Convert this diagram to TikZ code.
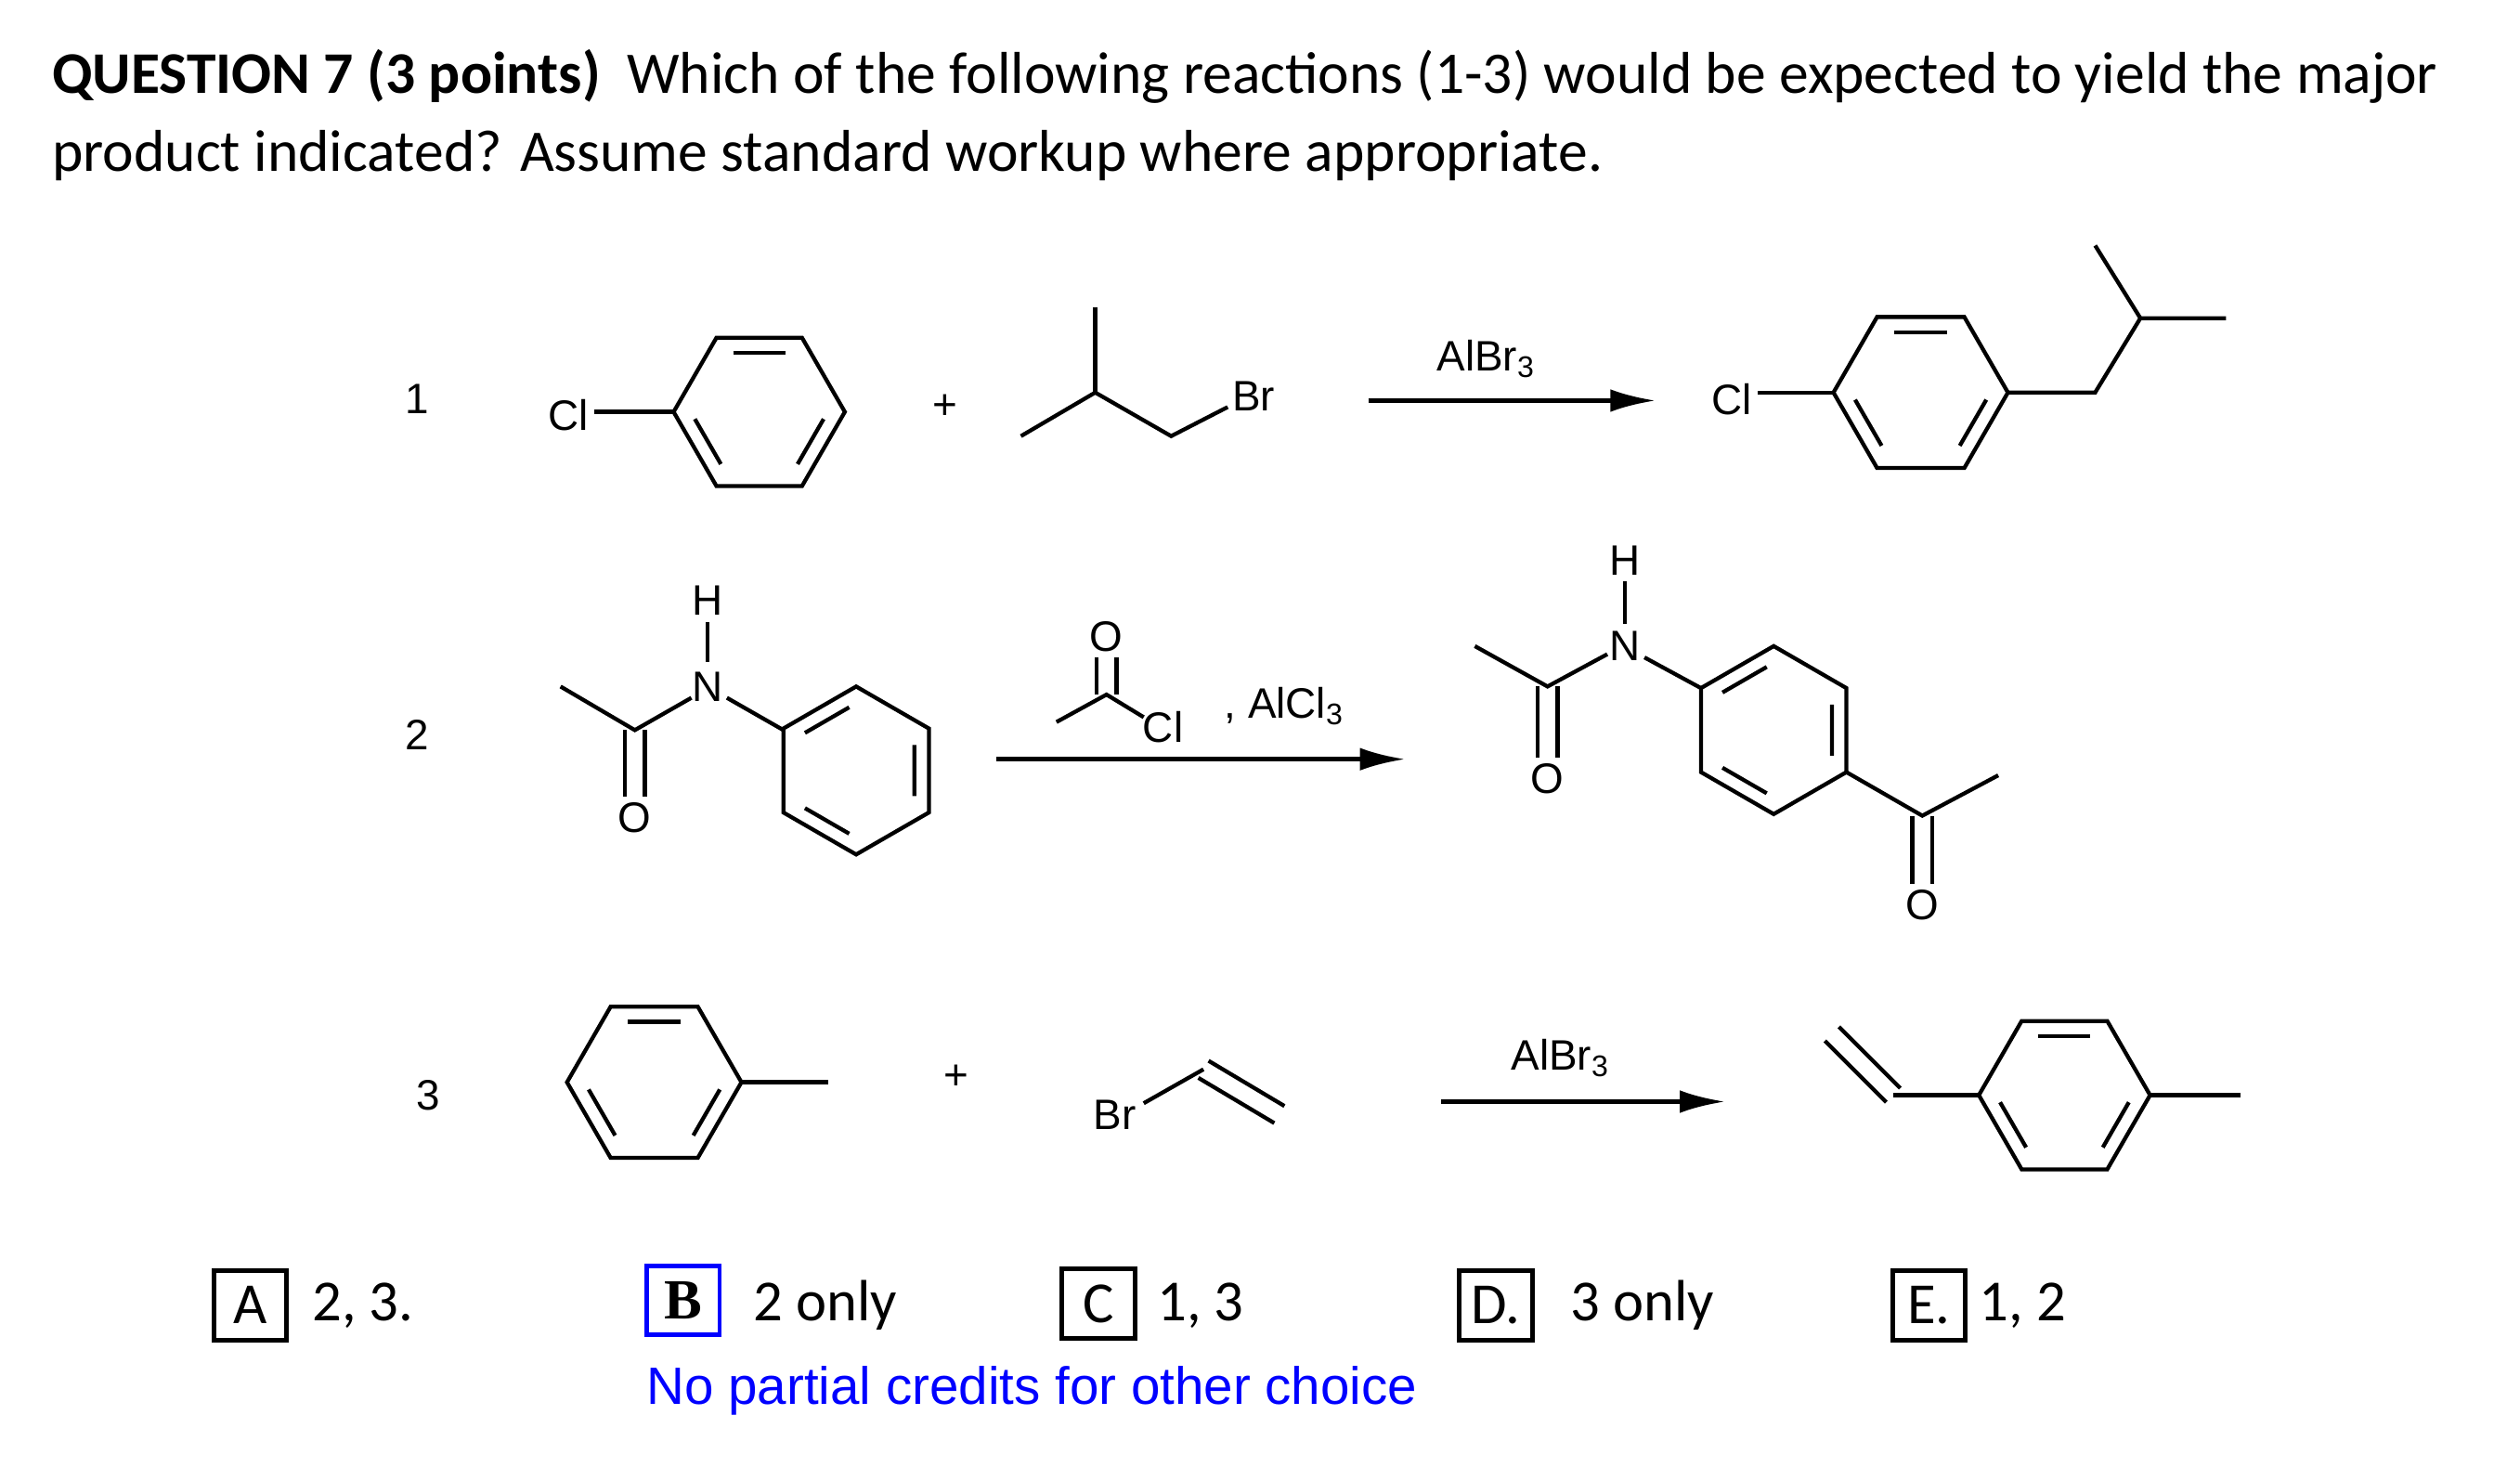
\documentclass[tikz,border=0pt]{standalone}
\usepackage{fontspec}
\setmainfont{Carlito}
\newfontfamily\chemfont{Liberation Sans}
\usetikzlibrary{calc}
\tikzset{
  bond/.style = {line width=1.4pt},
  lbl/.style = {font=\chemfont\fontsize{15}{17}\selectfont, inner sep=1pt},
  rxn/.style = {line width=1.6pt, -{Latex[length=16pt,width=8pt]}},
  optbox/.style = {draw, line width=1.6pt, minimum width=0.9cm, minimum height=0.86cm, inner sep=0pt, font=\fontsize{20.5}{22}\selectfont},
  opttxt/.style = {font=\fontsize{20.5}{22}\selectfont, anchor=west, inner sep=0pt}
}
\usetikzlibrary{arrows.meta}
% benzene ring: x, y, radius, rotation
\newcommand{\benzring}[4]{%
  \begin{scope}[shift={(#1,#2)}, rotate=#4]
    \draw[bond] (0:#3) -- (60:#3) -- (120:#3) -- (180:#3) -- (240:#3) -- (300:#3) -- cycle;
    \foreach \a in {0,120,240}
      \draw[bond] ($(\a:0.8*#3)!0.12!(\a+60:0.8*#3)$) -- ($(\a+60:0.8*#3)!0.12!(\a:0.8*#3)$);
  \end{scope}}
% double bond drawn as two offset lines
\newcommand{\dbond}[2]{%
  \draw[bond] ($#1!3.5pt!90:#2$) -- ($#2!3.5pt!-90:#1$);
  \draw[bond] ($#1!3.5pt!-90:#2$) -- ($#2!3.5pt!90:#1$);}
\begin{document}
\begin{tikzpicture}[x=0.02cm, y=-0.02cm]
\useasboundingbox[fill=white] (0,0) rectangle (1560,908);

% question
\node[anchor=base west, inner sep=0pt, font=\fontsize{20.8}{24}\selectfont] (q1) at (32,58)
  {\textbf{QUESTION 7 (3 points)}\ \ Which of the following reactions (1-3) would be expected to yield the major};
\node[anchor=base west, inner sep=0pt, font=\fontsize{20.8}{24}\selectfont] (q2) at (32,106)
  {product indicated? Assume standard workup where appropriate.};

% reaction 1
\node[lbl] (n1) at (258,247) {1};
\node[lbl] (cl1) at (352,257) {Cl};
\draw[bond] (368,255) -- (418,255);
\benzring{470}{255}{53}{0}
\node[lbl] (plus1) at (585,252) {+};
\draw[bond] (678,190) -- (678,243);
\draw[bond] (632,270) -- (678,243) -- (725,270) -- (760,252);
\node[lbl] (br1) at (776,245) {Br};
\coordinate (a1s) at (847,248);
\coordinate (a1e) at (1025,248);
\draw[rxn] (a1s) -- (a1e);
\node[lbl] (r1) at (920,222) {AlBr\textsubscript{3}};
\node[lbl] (cl2) at (1072,247) {Cl};
\draw[bond] (1088,243) -- (1135,243);
\benzring{1189}{243}{54}{0}
\draw[bond] (1243,243) -- (1297,243) -- (1325,197) -- (1378,197);
\draw[bond] (1325,197) -- (1297,152);

% reaction 2
\node[lbl] (n2) at (258,455) {2};
\draw[bond] (347,425) -- (393,452) -- (428,432);
\dbond{(393,452)}{(393,493)}
\node[lbl] (o1) at (393,506) {O};
\node[lbl] (nh1) at (438,425) {N};
\node[lbl] (h1) at (438,372) {H};
\draw[bond] (438,385) -- (438,410);
\draw[bond] (450,432) -- (485,452);
\benzring{530}{477}{52}{30}
\draw[bond] (654,447) -- (685,430) -- (708,444);
\dbond{(685,430)}{(685,407)}
\node[lbl] (o2) at (685,394) {O};
\node[lbl] (cl3) at (720,450) {Cl};
\node[lbl] (r2) at (795,437) {, AlCl\textsubscript{3}};
\coordinate (a2s) at (617,470);
\coordinate (a2e) at (870,470);
\draw[rxn] (a2s) -- (a2e);
\draw[bond] (913,400) -- (958,425) -- (995,405);
\dbond{(958,425)}{(958,469)}
\node[lbl] (o3) at (958,482) {O};
\node[lbl] (nh2) at (1006,400) {N};
\node[lbl] (h2) at (1006,347) {H};
\draw[bond] (1006,360) -- (1006,386);
\draw[bond] (1018,407) -- (1053,426);
\benzring{1098}{452}{52}{30}
\draw[bond] (1143,478) -- (1190,505) -- (1237,480);
\dbond{(1190,505)}{(1190,547)}
\node[lbl] (o4) at (1190,560) {O};

% reaction 3
\node[lbl] (n3) at (265,678) {3};
\benzring{405}{670}{54}{0}
\draw[bond] (459,670) -- (513,670);
\node[lbl] (plus2) at (592,667) {+};
\node[lbl] (br2) at (690,690) {Br};
\draw[bond] (708,683) -- (745,662);
\dbond{(745,662)}{(792,690)}
\coordinate (a3s) at (892,682);
\coordinate (a3e) at (1068,682);
\draw[rxn] (a3s) -- (a3e);
\node[lbl] (r3) at (966,655) {AlBr\textsubscript{3}};
\dbond{(1134,640)}{(1172,678)}
\draw[bond] (1172,678) -- (1225,678);
\benzring{1278}{678}{53}{0}
\draw[bond] (1331,678) -- (1387,678);

% choices
\node[optbox] (ca) at (155,808) {A};
\node[opttxt] (ta) at (193,808) {2, 3.};
\node[optbox, draw=blue, font=\bfseries\rmfamily\fontspec{Liberation Serif}\fontsize{20}{22}\selectfont] (cb) at (423,805) {B};
\node[opttxt] (tb) at (466,808) {2 only};
\node[optbox] (cc) at (680,807) {C};
\node[opttxt] (tc) at (716,808) {1, 3};
\node[optbox] (cd) at (926,808) {D.};
\node[opttxt] (td) at (972,808) {3 only};
\node[optbox] (ce) at (1194,808) {E.};
\node[opttxt] (te) at (1225,808) {1, 2};
\node[anchor=west, inner sep=0pt, text=blue, font=\chemfont\fontsize{18.5}{20}\selectfont] (note) at (400,861)
  {No partial credits for other choice};
\end{tikzpicture}
\end{document}
